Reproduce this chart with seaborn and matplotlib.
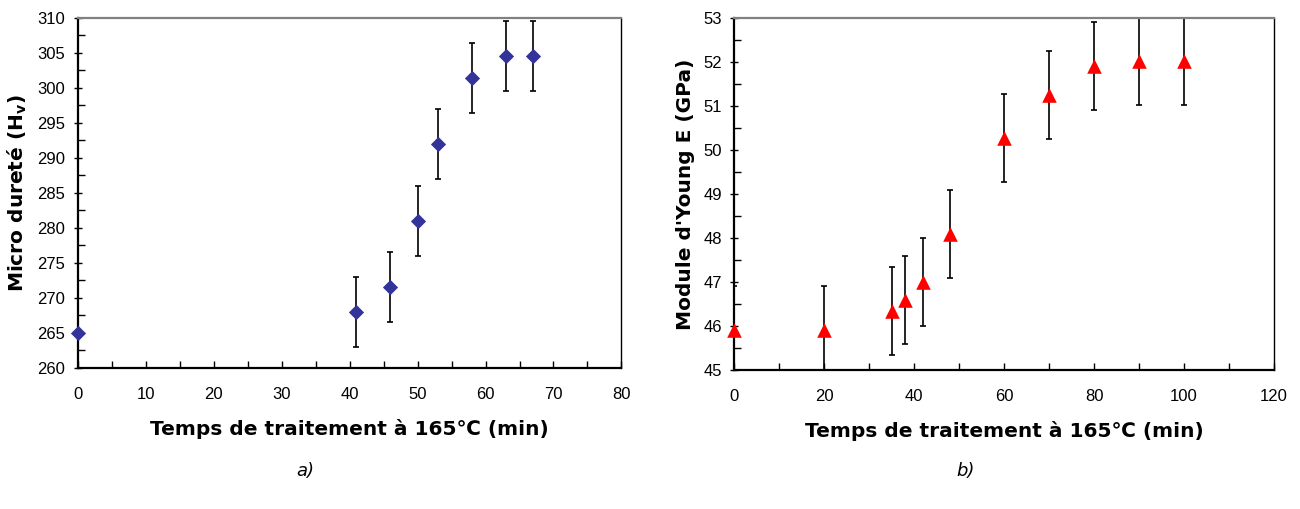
import matplotlib
matplotlib.use("Agg")
import matplotlib.pyplot as plt
import seaborn as sns
import numpy as np
import pandas as pd
from matplotlib.ticker import MultipleLocator

# Data panel a)
time_a = [0, 41, 46, 50, 53, 58, 63, 67]
hv_a = [265, 268, 271.6, 281, 292, 301.4, 304.6, 304.6]
err_a = [0, 5, 5, 5, 5, 5, 5, 5]

# Data panel b)
time_b = [0, 20, 35, 38, 42, 48, 60, 70, 80, 90, 100]
e_b = [45.9, 45.9, 46.35, 46.6, 47.0, 48.1, 50.27, 51.25, 51.9, 52.03, 52.03]
err_b = [1, 1, 1, 1, 1, 1, 1, 1, 1, 1, 1]

xlabel = "Temps de traitement à 165℃ (min)"
ylabel_a = "Micro dureté (H$_\\mathregular{v}$)"
ylabel_b = "Module d'Young E (GPa)"

sns.set_style("white")
plt.rcParams['font.family'] = ['DejaVu Sans']
plt.rcParams['text.color'] = 'black'
plt.rcParams['axes.labelcolor'] = 'black'

fig = plt.figure(figsize=(13, 5.09), dpi=100)
ax1 = fig.add_axes([0.060, 0.277, 0.418, 0.688])
ax2 = fig.add_axes([0.565, 0.273, 0.415, 0.692])

df_a = pd.DataFrame({"t": time_a, "v": hv_a})
df_b = pd.DataFrame({"t": time_b, "v": e_b})

ax1.errorbar(time_a, hv_a, yerr=err_a, fmt='none', ecolor='black', elinewidth=1.2,
             capsize=2.5, capthick=1.2, zorder=2, clip_on=True)
sns.scatterplot(data=df_a, x="t", y="v", ax=ax1, marker='D', s=60, color='#333399',
                edgecolor='#333399', linewidth=0, zorder=3, clip_on=False)

ax2.errorbar(time_b, e_b, yerr=err_b, fmt='none', ecolor='black', elinewidth=1.2,
             capsize=2.5, capthick=1.2, zorder=2, clip_on=True)
sns.scatterplot(data=df_b, x="t", y="v", ax=ax2, marker='^', s=110, color='#ff0000',
                edgecolor='#ff0000', linewidth=0, zorder=3, clip_on=False)

ax1.set_xlim(0, 80)
ax1.set_ylim(260, 310)
ax1.xaxis.set_major_locator(MultipleLocator(10))
ax1.xaxis.set_minor_locator(MultipleLocator(5))
ax1.yaxis.set_major_locator(MultipleLocator(5))
ax1.yaxis.set_minor_locator(MultipleLocator(2.5))

ax2.set_xlim(0, 120)
ax2.set_ylim(45, 53)
ax2.xaxis.set_major_locator(MultipleLocator(20))
ax2.xaxis.set_minor_locator(MultipleLocator(10))
ax2.yaxis.set_major_locator(MultipleLocator(1))
ax2.yaxis.set_minor_locator(MultipleLocator(0.5))

for ax, yl in [(ax1, ylabel_a), (ax2, ylabel_b)]:
    for side in ['left', 'bottom']:
        ax.spines[side].set_color('black')
        ax.spines[side].set_linewidth(1.6)
    ax.spines['top'].set_color('#808080')
    ax.spines['top'].set_linewidth(1.6)
    ax.spines['right'].set_color('black')
    ax.spines['right'].set_linewidth(1.0)
    ax.tick_params(axis='x', which='major', direction='in', length=5, width=1,
                   labelsize=12, pad=14, bottom=True, colors='black')
    ax.tick_params(axis='y', which='major', direction='inout', length=6, width=1,
                   labelsize=12, pad=6, left=True, colors='black')
    ax.tick_params(axis='both', which='minor', direction='in', length=5, width=1,
                   bottom=True, left=True, colors='black')
    for lab in ax.get_xticklabels() + ax.get_yticklabels():
        lab.set_family(['Liberation Sans'])
    ax.set_xlabel(xlabel, fontsize=14.5, fontweight='bold', labelpad=12)
    ax.set_ylabel(yl, fontsize=14.5, fontweight='bold', labelpad=6)

fig.text(0.235, 0.075, "a)", fontsize=13, style='italic', ha='center', va='center')
fig.text(0.743, 0.075, "b)", fontsize=13, style='italic', ha='center', va='center')

fig.savefig("out.png", dpi=100)
